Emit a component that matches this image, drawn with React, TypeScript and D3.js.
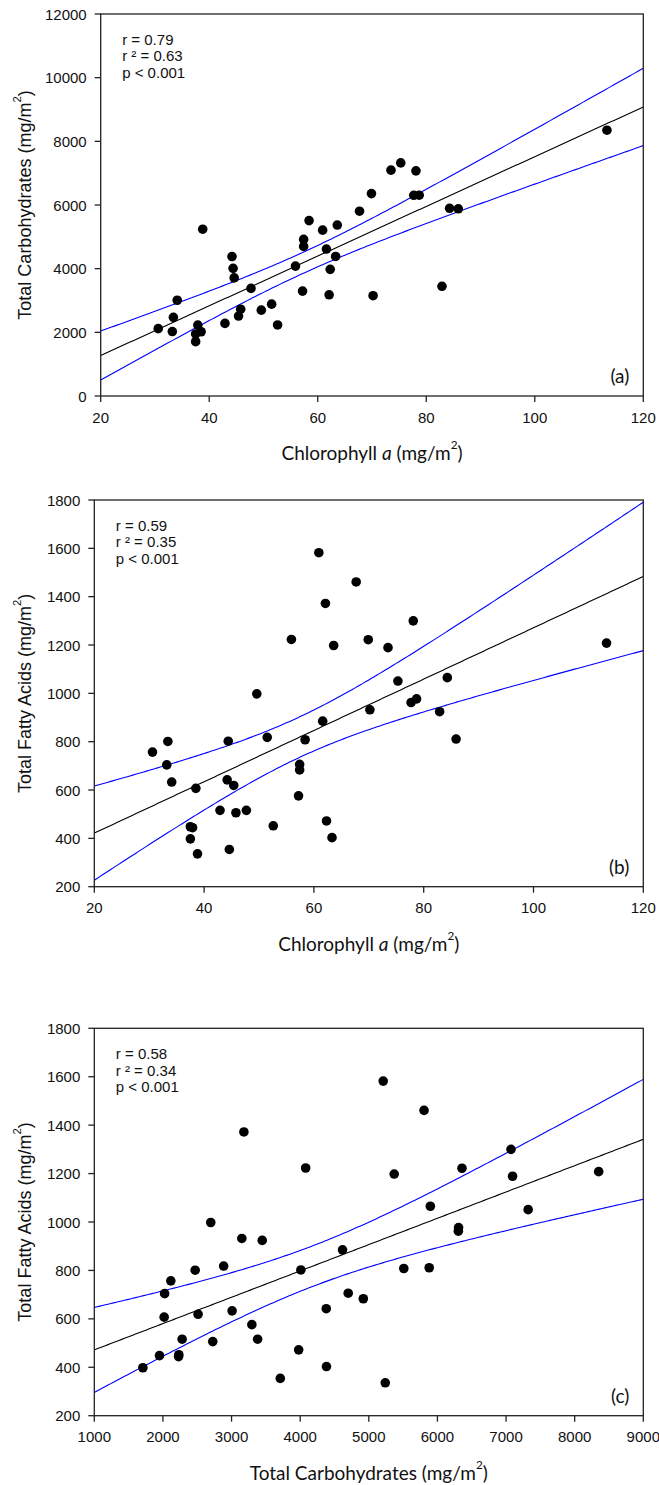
import React from "react";
import * as d3 from "d3";

// ---- data (42 samples) ----
const chlA = [30.6, 33.2, 33.4, 34.1, 37.5, 37.5, 37.9, 38.5, 38.8, 42.9, 44.2, 44.4, 44.6, 45.4, 45.8, 47.7, 49.6, 51.5, 52.6, 55.9, 57.2, 57.4, 57.4, 58.4, 60.9, 61.6, 62.1, 62.3, 63.3, 63.6, 67.7, 69.9, 70.2, 73.5, 75.3, 78.1, 77.7, 78.7, 82.9, 84.3, 85.9, 113.3];
const carbohydrates = [2115, 2025, 2470, 3008, 1708, 1950, 2228, 2018, 5240, 2280, 4380, 4010, 3710, 2512, 2726, 3380, 2697, 2885, 2232, 4080, 3296, 4700, 4920, 5510, 5210, 4617, 3180, 3978, 4383, 5370, 5805, 6358, 3150, 7095, 7322, 7072, 6305, 6308, 3447, 5897, 5880, 8350];
const fattyAcids = [757, 704, 801, 633, 398, 448, 444, 607, 336, 516, 642, 802, 354, 619, 506, 516, 998, 818, 452, 1223, 576, 706, 683, 808, 1582, 885, 1372, 472, 403, 1198, 1461, 1222, 932, 1189, 1051, 1300, 962, 977, 924, 1065, 811, 1208];

const chlTicks = [20, 40, 60, 80, 100, 120];
const carbTicksY = [0, 2000, 4000, 6000, 8000, 10000, 12000];
const faTicks = [200, 400, 600, 800, 1000, 1200, 1400, 1600, 1800];
const carbTicksX = [1000, 2000, 3000, 4000, 5000, 6000, 7000, 8000, 9000];

const statsA = ["r = 0.79", "r \u00B2 = 0.63", "p < 0.001"];
const statsB = ["r = 0.59", "r \u00B2 = 0.35", "p < 0.001"];
const statsC = ["r = 0.58", "r \u00B2 = 0.34", "p < 0.001"];

const T_CRIT = 2.0211; // t(0.975, df = 40)

const TICK_FONT = "'Liberation Sans', Arial, sans-serif";
const TITLE_FONT = "Lato, 'Open Sans', sans-serif";

type Box = { left: number; right: number; top: number; bottom: number };

function regression(xs: number[], ys: number[]) {
  const n = xs.length;
  const mx = d3.mean(xs)!;
  const my = d3.mean(ys)!;
  let sxx = 0, sxy = 0;
  for (let i = 0; i < n; i++) {
    sxx += (xs[i] - mx) ** 2;
    sxy += (xs[i] - mx) * (ys[i] - my);
  }
  const b = sxy / sxx;
  const a = my - b * mx;
  let sse = 0;
  for (let i = 0; i < n; i++) sse += (ys[i] - a - b * xs[i]) ** 2;
  const s = Math.sqrt(sse / (n - 2));
  const fit = (x: number) => a + b * x;
  const half = (x: number) => T_CRIT * s * Math.sqrt(1 / n + (x - mx) ** 2 / sxx);
  return { fit, half };
}

function Sup({ fs }: { fs: number }) {
  return null;
}

function Panel(props: {
  box: Box;
  xDomain: [number, number];
  yDomain: [number, number];
  xs: number[];
  ys: number[];
  xTicks: number[];
  yTicks: number[];
  xTitle: React.ReactNode;
  yTitle: React.ReactNode;
  stats: string[];
  label: string;
}) {
  const { box, xDomain, yDomain, xs, ys, xTicks, yTicks, stats, label } = props;
  const x = d3.scaleLinear().domain(xDomain).range([box.left, box.right]);
  const y = d3.scaleLinear().domain(yDomain).range([box.bottom, box.top]);
  const reg = regression(xs, ys);
  const samples = d3.range(0, 201).map((i) => xDomain[0] + ((xDomain[1] - xDomain[0]) * i) / 200);
  const line = d3
    .line<number[]>()
    .x((d) => x(d[0]))
    .y((d) => y(d[1]));
  const fitPath = line(samples.map((v) => [v, reg.fit(v)]))!;
  const upPath = line(samples.map((v) => [v, reg.fit(v) + reg.half(v)]))!;
  const loPath = line(samples.map((v) => [v, reg.fit(v) - reg.half(v)]))!;
  const cx = (box.left + box.right) / 2;
  const cy = (box.top + box.bottom) / 2;
  return (
    <g>
      <path d={upPath} fill="none" stroke="#0000ff" strokeWidth={1.1} />
      <path d={loPath} fill="none" stroke="#0000ff" strokeWidth={1.1} />
      <path d={fitPath} fill="none" stroke="#000" strokeWidth={1.1} />
      {xs.map((v, i) => (
        <circle key={i} cx={x(v)} cy={y(ys[i])} r={4.8} fill="#000" />
      ))}
      <rect
        x={box.left}
        y={box.top}
        width={box.right - box.left}
        height={box.bottom - box.top}
        fill="none"
        stroke="#222"
        strokeWidth={1.3}
      />
      {xTicks.map((t) => (
        <g key={"x" + t}>
          <line x1={x(t)} x2={x(t)} y1={box.bottom} y2={box.bottom + 6} stroke="#222" strokeWidth={1.3} />
          <text
            x={x(t)}
            y={box.bottom + 21}
            textAnchor="middle"
            dominantBaseline="central"
            fontFamily={TICK_FONT}
            fontSize={15}
            fill="#111"
          >
            {t}
          </text>
        </g>
      ))}
      {yTicks.map((t) => (
        <g key={"y" + t}>
          <line x1={box.left - 6} x2={box.left} y1={y(t)} y2={y(t)} stroke="#222" strokeWidth={1.3} />
          <text
            x={box.left - 14}
            y={y(t)}
            textAnchor="end"
            dominantBaseline="central"
            fontFamily={TICK_FONT}
            fontSize={15}
            fill="#111"
          >
            {t}
          </text>
        </g>
      ))}
      {stats.map((s, i) => (
        <text
          key={s}
          x={box.left + 21.5}
          y={box.top + 25 + i * 16.7}
          dominantBaseline="central"
          fontFamily={TICK_FONT}
          fontSize={15}
          fill="#111"
        >
          {s}
        </text>
      ))}
      <text
        x={box.right - 14}
        y={box.bottom - 20.5}
        textAnchor="end"
        dominantBaseline="central"
        fontFamily={TITLE_FONT}
        fontSize={19}
        fill="#111"
      >
        {label}
      </text>
      <text
        x={cx}
        y={box.bottom + 56}
        textAnchor="middle"
        dominantBaseline="central"
        fontFamily={TITLE_FONT}
        fontSize={19}
        fill="#111"
      >
        {props.xTitle}
      </text>
      <text
        transform={`translate(25,${cy}) rotate(-90)`}
        textAnchor="middle"
        dominantBaseline="central"
        fontFamily={TICK_FONT}
        fontSize={18}
        fill="#111"
      >
        {props.yTitle}
      </text>
    </g>
  );
}

function unitTail(fs: number) {
  const shift = fs * 0.42;
  return [
    <tspan key="u">(mg/m</tspan>,
    <tspan key="s" dy={-shift} fontSize={fs * 0.62}>
      2
    </tspan>,
    <tspan key="c" dy={shift}>
      )
    </tspan>,
  ];
}

export default function App() {
  const boxA: Box = { left: 100.7, right: 643.3, top: 14, bottom: 396 };
  const boxB: Box = { left: 94.3, right: 643.3, top: 500, bottom: 886.7 };
  const boxC: Box = { left: 94.3, right: 643.3, top: 1028.3, bottom: 1415.7 };
  const chlTitle = [
    <tspan key="a">Chlorophyll </tspan>,
    <tspan key="b" fontStyle="italic">a</tspan>,
    <tspan key="c"> </tspan>,
    ...unitTail(19),
  ];
  return (
    <svg
      width={659}
      height={1485}
      style={{ position: "absolute", left: 0, top: 0, background: "#fff" }}
    >
      <rect width={659} height={1485} fill="#fff" />
      <Panel
        box={boxA}
        xDomain={[20, 120]}
        yDomain={[0, 12000]}
        xs={chlA}
        ys={carbohydrates}
        xTicks={chlTicks}
        yTicks={carbTicksY}
        xTitle={chlTitle}
        yTitle={[<tspan key="t">Total Carbohydrates </tspan>, ...unitTail(18)]}
        stats={statsA}
        label="(a)"
      />
      <Panel
        box={boxB}
        xDomain={[20, 120]}
        yDomain={[200, 1800]}
        xs={chlA}
        ys={fattyAcids}
        xTicks={chlTicks}
        yTicks={faTicks}
        xTitle={chlTitle}
        yTitle={[<tspan key="t">Total Fatty Acids </tspan>, ...unitTail(18)]}
        stats={statsB}
        label="(b)"
      />
      <Panel
        box={boxC}
        xDomain={[1000, 9000]}
        yDomain={[200, 1800]}
        xs={carbohydrates}
        ys={fattyAcids}
        xTicks={carbTicksX}
        yTicks={faTicks}
        xTitle={[<tspan key="t">Total Carbohydrates </tspan>, ...unitTail(19)]}
        yTitle={[<tspan key="t">Total Fatty Acids </tspan>, ...unitTail(18)]}
        stats={statsC}
        label="(c)"
      />
    </svg>
  );
}
